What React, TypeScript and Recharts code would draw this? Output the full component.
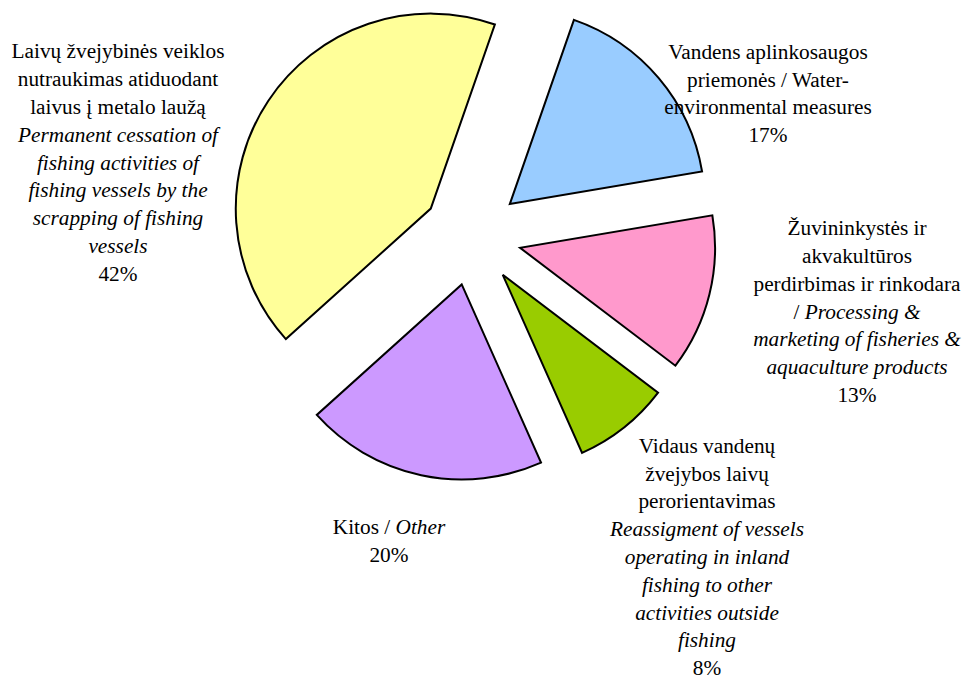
import { PieChart, Pie, Cell, Sector } from "recharts";

type Seg = { t: string; i?: boolean };

const NAMES = [
  "Vandens aplinkosaugos priemonės / Water-environmental measures",
  "Žuvininkystės ir akvakultūros perdirbimas ir rinkodara / Processing & marketing of fisheries & aquaculture products",
  "Vidaus vandenų žvejybos laivų perorientavimas / Reassigment of vessels operating in inland fishing to other activities outside fishing",
  "Kitos / Other",
  "Laivų žvejybinės veiklos nutraukimas atiduodant laivus į metalo laužą / Permanent cessation of fishing activities of fishing vessels by the scrapping of fishing vessels",
];

const VALUES = [17, 13, 8, 20, 42];

const COLORS = ["#99ccff", "#ff99cc", "#99cc00", "#cc99ff", "#ffff99"];

// label text, line by line (percent line is added from the data)
const LABEL_LINES: Seg[][][] = [
  [
    [{ t: "Vandens aplinkosaugos" }],
    [{ t: "priemonės / Water-" }],
    [{ t: "environmental measures" }],
  ],
  [
    [{ t: "Žuvininkystės ir" }],
    [{ t: "akvakultūros" }],
    [{ t: "perdirbimas ir rinkodara" }],
    [{ t: "/ " }, { t: "Processing &", i: true }],
    [{ t: "marketing of fisheries &", i: true }],
    [{ t: "aquaculture products", i: true }],
  ],
  [
    [{ t: "Vidaus vandenų" }],
    [{ t: "žvejybos laivų" }],
    [{ t: "perorientavimas" }],
    [{ t: "Reassigment of vessels", i: true }],
    [{ t: "operating in inland", i: true }],
    [{ t: "fishing to other", i: true }],
    [{ t: "activities outside", i: true }],
    [{ t: "fishing", i: true }],
  ],
  [[{ t: "Kitos / " }, { t: "Other", i: true }]],
  [
    [{ t: "Laivų žvejybinės veiklos" }],
    [{ t: "nutraukimas atiduodant" }],
    [{ t: "laivus į metalo laužą" }],
    [{ t: "Permanent cessation of", i: true }],
    [{ t: "fishing activities of", i: true }],
    [{ t: "fishing vessels by the", i: true }],
    [{ t: "scrapping of fishing", i: true }],
    [{ t: "vessels", i: true }],
  ],
];

// where each label block sits, relative to the pie centre
const LABEL_SHIFT = [
  { dx: 296, dy: -135.5 },
  { dx: 385, dy: 82.5 },
  { dx: 235, dy: 328 },
  { dx: -83, dy: 312 },
  { dx: -354, dy: -66.5 },
];

const data = VALUES.map((v, i) => ({ name: NAMES[i], value: v }));

const RAD = Math.PI / 180;
const EXPLODE = 49.5;
const FONT = "'Liberation Serif', 'Times New Roman', serif";
const FONT_SIZE = 21.3;
const LINE_H = 27.8;

function renderSlice(props: any) {
  const mid = (props.startAngle + props.endAngle) / 2;
  const cx = props.cx + EXPLODE * Math.cos(mid * RAD);
  const cy = props.cy - EXPLODE * Math.sin(mid * RAD);
  return (
    <Sector
      {...props}
      cx={cx}
      cy={cy}
      stroke="#000"
      strokeWidth={2}
      strokeLinejoin="miter"
    />
  );
}

function renderLabel(props: any) {
  const { cx, cy, index, percent } = props;
  const lines: Seg[][] = [
    ...LABEL_LINES[index],
    [{ t: `${Math.round(percent * 100)}%` }],
  ];
  const x = cx + LABEL_SHIFT[index].dx;
  const y0 = cy + LABEL_SHIFT[index].dy - ((lines.length - 1) / 2) * LINE_H;
  return (
    <text
      key={`lbl-${index}`}
      textAnchor="middle"
      fill="#000"
      style={{ fontFamily: FONT, fontSize: FONT_SIZE }}
    >
      {lines.map((line, li) => (
        <tspan key={li} x={x} y={y0 + li * LINE_H}>
          {line.map((s, si) => (
            <tspan key={si} style={{ fontStyle: s.i ? "italic" : "normal" }}>
              {s.t}
            </tspan>
          ))}
        </tspan>
      ))}
    </text>
  );
}

export default function App() {
  return (
    <div style={{ position: "absolute", left: 0, top: 0, width: 965, height: 677 }}>
      <PieChart width={965} height={677} margin={{ top: 0, right: 0, bottom: 0, left: 0 }}>
        <Pie
          data={data}
          dataKey="value"
          nameKey="name"
          cx={472}
          cy={236}
          outerRadius={195}
          startAngle={70.8}
          endAngle={-289.2}
          stroke="#000"
          strokeWidth={2}
          labelLine={false}
          label={renderLabel}
          shape={renderSlice}
          activeShape={renderSlice}
          inactiveShape={renderSlice}
          isAnimationActive={false}
        >
          {data.map((d, i) => (
            <Cell key={d.name} fill={COLORS[i]} />
          ))}
        </Pie>
      </PieChart>
    </div>
  );
}
